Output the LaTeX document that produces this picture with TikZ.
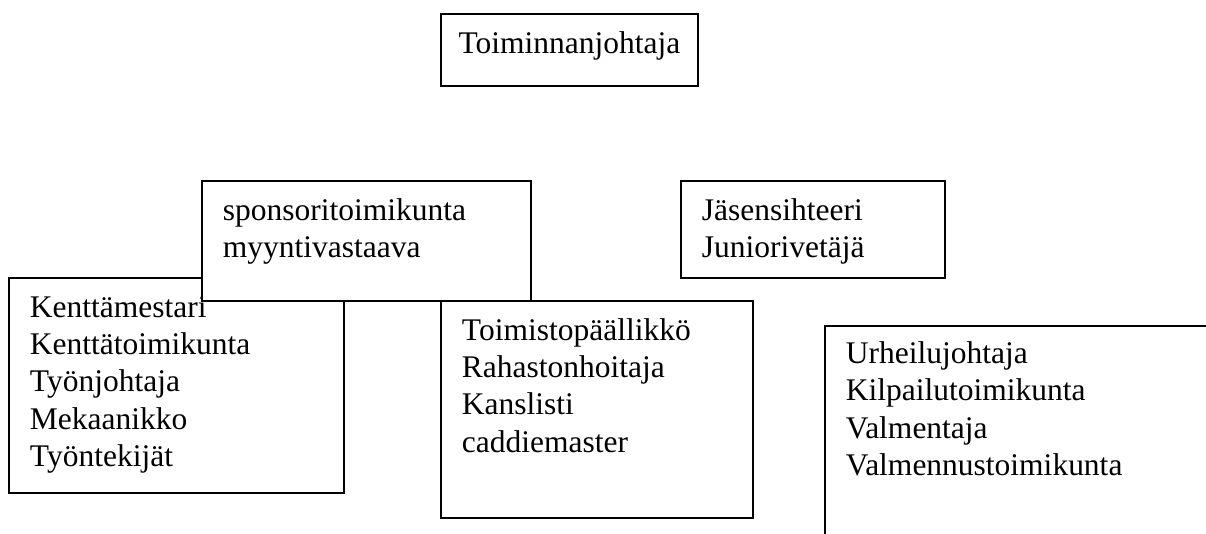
\documentclass[tikz,border=0pt]{standalone}
\usepackage{fontspec}
\setmainfont{Liberation Serif}
\usepackage{tikz}

\begin{document}
\begin{tikzpicture}[x=0.381pt,y=-0.381pt,
	box/.style={draw,fill=white,line width=0.75pt,anchor=north west,inner xsep=8pt,inner ysep=0pt,text height=15.24pt,align=left,font=\fontsize{12}{14.1}\selectfont}]
		\useasboundingbox (0,0) rectangle (1206,534);
		\clip (0,0) rectangle (1206,534);
		\node[box,inner xsep=4pt,minimum width=97.9pt,text depth=12.2pt] (n1) at (440,13) {Toiminnanjohtaja};
		\node[box,text width=111.6pt,text depth=66.7pt] (n2) at (8,277) {Kenttämestari\\Kenttätoimikunta\\Työnjohtaja\\Mekaanikko\\Työntekijät};
		\node[box,text width=109.3pt,text depth=30.5pt] (n3) at (201,180) {sponsoritoimikunta\\myyntivastaava};
		\node[box,text width=84.6pt,text depth=21.7pt] (n4) at (680,180) {Jäsensihteeri\\Juniorivetäjä};
		\node[box,text width=102.9pt,text depth=67.4pt] (n5) at (440,300) {Toimistopäällikkö\\Rahastonhoitaja\\Kanslisti\\caddiemaster};
		\node[box,text width=144pt,text height=14.48pt,text depth=75pt] (n6) at (824,325) {Urheilujohtaja\\Kilpailutoimikunta\\Valmentaja\\Valmennustoimikunta};
\end{tikzpicture}
\end{document}
